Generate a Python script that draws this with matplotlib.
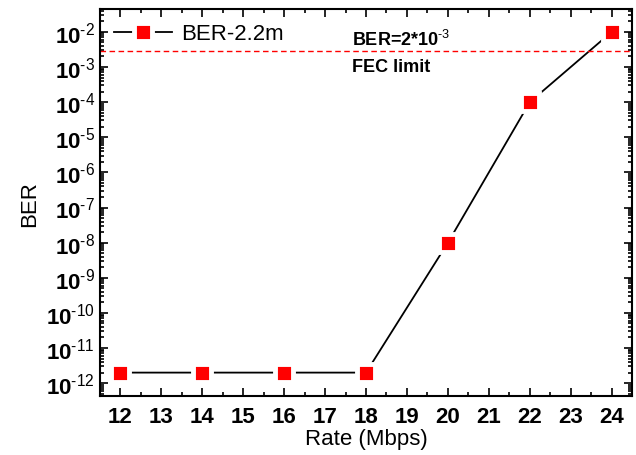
import matplotlib
matplotlib.use('Agg')
import matplotlib.pyplot as plt
from matplotlib.ticker import LogLocator, MultipleLocator, NullFormatter, FuncFormatter
import numpy as np

plt.rcParams['font.family'] = ['Liberation Sans', 'DejaVu Sans']
plt.rcParams['mathtext.fontset'] = 'custom'
plt.rcParams['mathtext.rm'] = 'Liberation Sans'
plt.rcParams['mathtext.bf'] = 'Liberation Sans:bold'

# data
rate = [12, 14, 16, 18, 20, 22, 24]
ber = [2e-12, 2e-12, 2e-12, 2e-12, 1e-8, 1e-4, 1e-2]
fec_limit = 2.9e-3   # where the dashed line sits in the picture
decades = list(range(-12, -1))

fig, ax = plt.subplots(figsize=(6.36, 4.56), dpi=100)
fig.subplots_adjust(left=0.157, right=0.994, top=0.978, bottom=0.129)

ax.plot(rate, ber, color='black', lw=1.3, marker='s', markersize=13,
        markerfacecolor='red', markeredgecolor='white', markeredgewidth=3.5,
        label='BER-2.2m')
ax.axhline(fec_limit, color='red', ls='--', lw=1.0, dashes=(4, 2.5))

ax.text(17.65, 4.1e-3, r'BER=2*10$^{\mathbf{\text{-3}}}$', fontsize=13, fontweight='bold', va='baseline')
ax.text(17.65, 1.75e-3, 'FEC limit', fontsize=13, fontweight='bold', va='top')

def dec_fmt(v, pos):
    return r'$\mathbf{10}^{\mathbf{\text{%d}}}$' % int(round(np.log10(v)))

ax.set_yscale('log')
ax.set_xlim(11.5, 24.5)
ax.set_ylim(10**-12.37, 10**-1.35)
ax.set_xticks(range(12, 25))
ax.xaxis.set_minor_locator(MultipleLocator(0.5))
ax.set_yticks([10.0**k for k in decades])
ax.yaxis.set_major_formatter(FuncFormatter(dec_fmt))
ax.yaxis.set_minor_locator(LogLocator(base=10, subs=np.arange(2, 10), numticks=20))
ax.yaxis.set_minor_formatter(NullFormatter())

ax.tick_params(which='both', direction='in', top=True, right=True, width=1.2)
ax.tick_params(which='major', length=6, labelsize=16)
ax.tick_params(which='minor', length=3)
ax.tick_params(axis='x', pad=7)
for lbl in ax.get_xticklabels():
    lbl.set_fontweight('bold')
for s in ax.spines.values():
    s.set_linewidth(1.5)

ax.set_xlabel('Rate (Mbps)', fontsize=16, labelpad=1)
ax.set_ylabel('BER', fontsize=16, labelpad=4)

ax.legend(loc='upper left', frameon=False, fontsize=16, handlelength=2.6,
          borderaxespad=0.35, handletextpad=0.4, borderpad=0.3)

fig.savefig('out.png', dpi=100)
